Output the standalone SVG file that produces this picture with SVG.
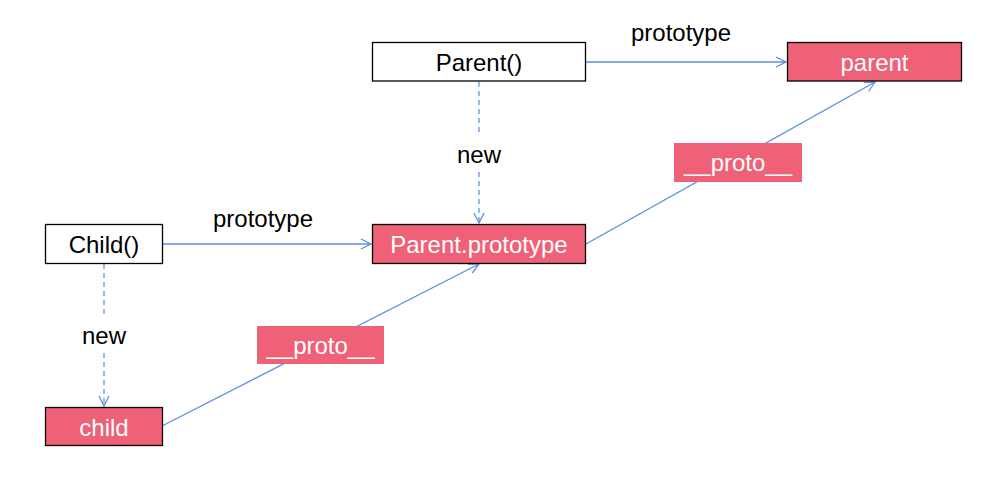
<svg xmlns="http://www.w3.org/2000/svg" width="1005" height="488" viewBox="0 0 1005 488">
  <style>
    .box { stroke: #000; stroke-width: 1.3; }
    .plain { fill: #fff; }
    .obj { fill: #EE6176; }
    .lbl { fill: #EE6176; }
    .t { font-family: "Liberation Sans", Arial, sans-serif; font-size: 24px; text-anchor: middle; dominant-baseline: central; }
    .dark { fill: #000; }
    .light { fill: #fff; }
    .link { stroke: #5B8FE0; stroke-width: 1.3; fill: none; }
    .dash { stroke: #79A3E6; stroke-width: 1.5; stroke-dasharray: 5 4; fill: none; }
  </style>
  <defs>
    <marker id="arrow" viewBox="0 0 12 12" refX="11" refY="6" markerWidth="12" markerHeight="12" markerUnits="userSpaceOnUse" orient="auto">
      <path d="M1,1 L11,6 L1,11" fill="none" stroke="#5B8FE0" stroke-width="1.3"/>
    </marker>
  </defs>

  <rect width="1005" height="488" fill="#fff"/>

  <!-- connectors -->
  <g id="connectors">
    <line class="link" x1="586" y1="62" x2="786" y2="62" marker-end="url(#arrow)"/>
    <line class="link" x1="163" y1="244" x2="371" y2="244" marker-end="url(#arrow)"/>
    <line class="dash" x1="479" y1="82" x2="479" y2="136"/>
    <line class="dash" x1="479" y1="172" x2="479" y2="223" marker-end="url(#arrow)"/>
    <line class="dash" x1="104" y1="264" x2="104" y2="317"/>
    <line class="dash" x1="104" y1="353" x2="104" y2="406" marker-end="url(#arrow)"/>
    <line class="link" x1="162" y1="426" x2="479" y2="264" marker-end="url(#arrow)"/>
    <line class="link" x1="586" y1="244" x2="875" y2="82" marker-end="url(#arrow)"/>
    <text class="t dark" x="681" y="32">prototype</text>
    <text class="t dark" x="263" y="218">prototype</text>
    <text class="t dark" x="479" y="154">new</text>
    <text class="t dark" x="104" y="335">new</text>
    <g id="proto-label-1">
      <rect class="lbl" x="257" y="326" width="127" height="38"/>
      <text class="t light" x="320.5" y="345">__proto__</text>
    </g>
    <g id="proto-label-2">
      <rect class="lbl" x="674" y="143" width="128" height="39"/>
      <text class="t light" x="738" y="162">__proto__</text>
    </g>
  </g>

  <g id="ParentFn">
    <rect class="box plain" x="372.5" y="42.5" width="213" height="38.5"/>
    <text class="t dark" x="479" y="62">Parent()</text>
  </g>
  <g id="parent">
    <rect class="box obj" x="787.5" y="42.5" width="174" height="38.5"/>
    <text class="t light" x="874.5" y="62">parent</text>
  </g>
  <g id="ParentPrototype">
    <rect class="box obj" x="372.5" y="224.5" width="213" height="39"/>
    <text class="t light" x="479" y="244">Parent.prototype</text>
  </g>
  <g id="ChildFn">
    <rect class="box plain" x="45.5" y="224.5" width="117" height="39"/>
    <text class="t dark" x="104" y="244">Child()</text>
  </g>
  <g id="child">
    <rect class="box obj" x="45.5" y="407.5" width="117" height="38"/>
    <text class="t light" x="104" y="427">child</text>
  </g>
</svg>
